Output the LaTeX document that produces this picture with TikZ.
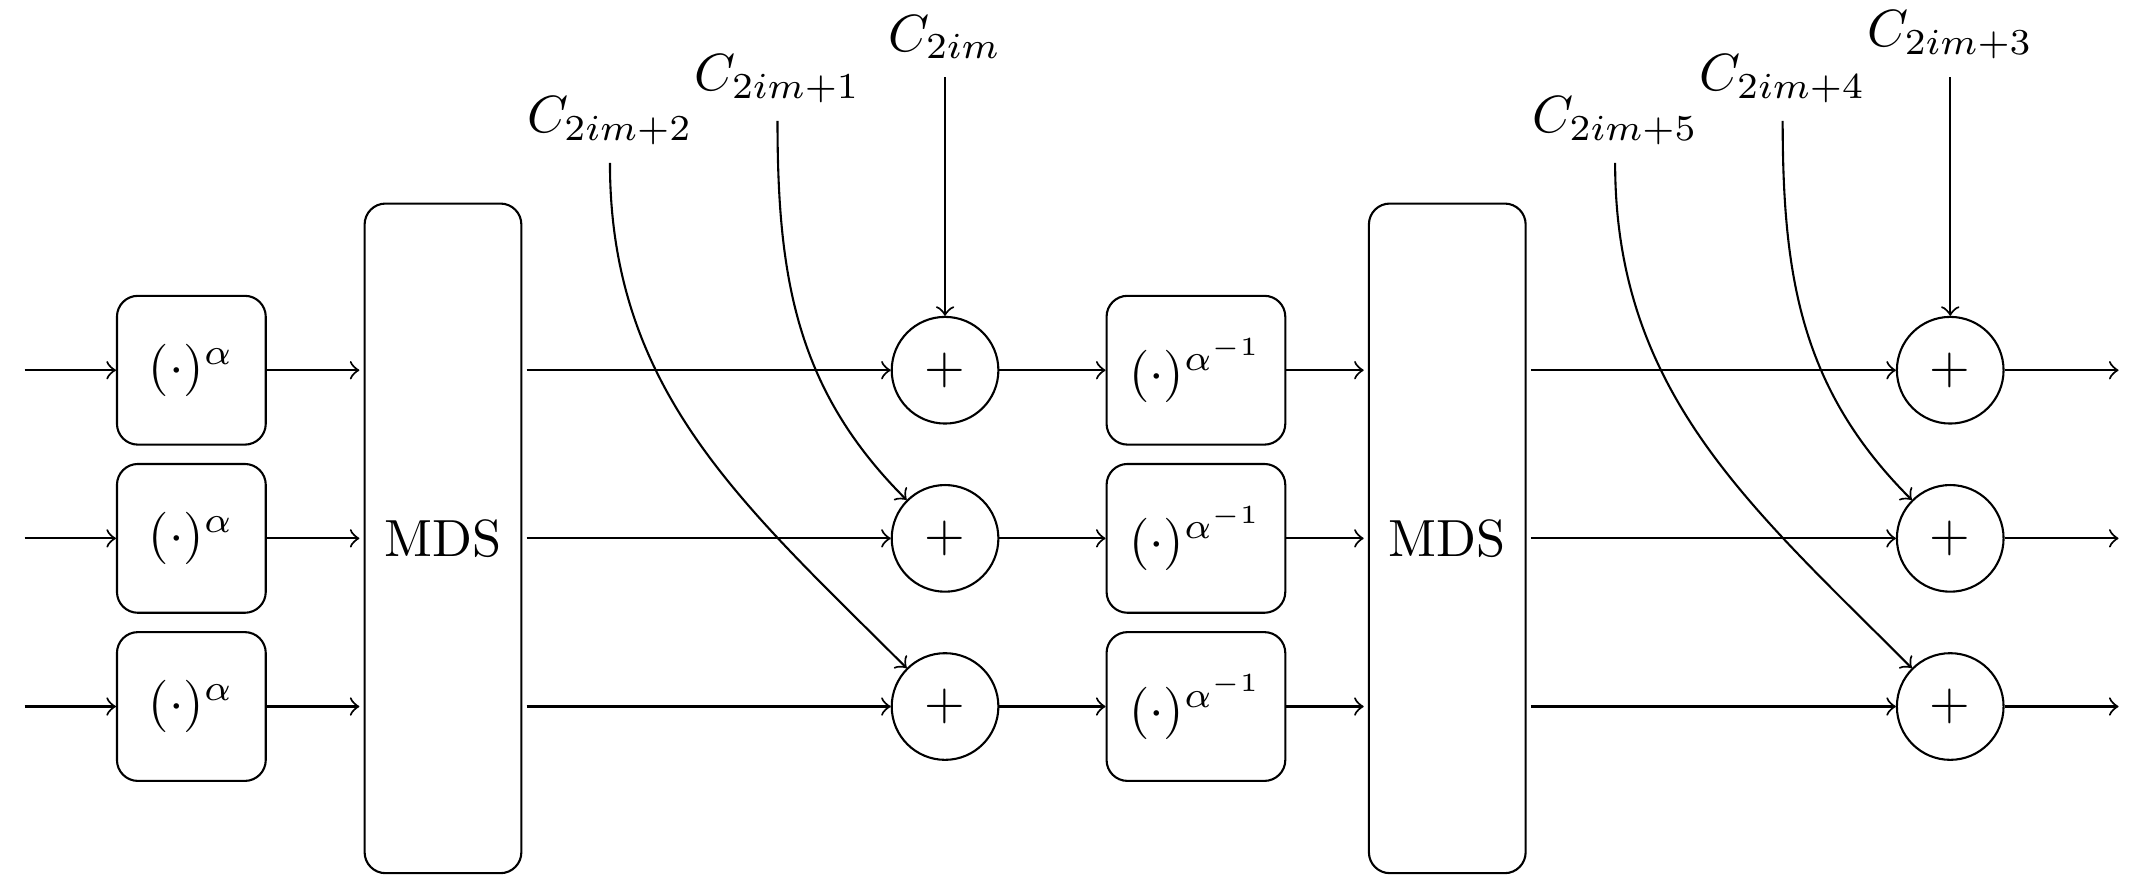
\documentclass[tikz,border=0pt]{standalone}
\begin{document}
\begin{tikzpicture}[
  pw/.style={draw, rounded corners, minimum width=1cm, minimum height=1cm, inner xsep=4.3pt},
  mds/.style={draw, rounded corners, minimum height=4.5cm, inner xsep=3.8pt, outer sep=1pt},
  add/.style={draw, circle, inner sep=3.6pt},
  key/.style={anchor=south}]
\useasboundingbox (0,-2.363) rectangle (14.368,3.618);
\coordinate (i1) at (0.165,1.13);
\coordinate (i2) at (0.165,0);
\coordinate (i3) at (0.165,-1.13);
\node[pw] (p1) at (1.286,1.13) {$(\cdot)^{\alpha}$};
\node[pw] (p2) at (1.286,0) {$(\cdot)^{\alpha}$};
\node[pw] (p3) at (1.286,-1.13) {$(\cdot)^{\alpha}$};
\node[mds] (m1) at (2.977,0) {MDS};
\node[add] (a1) at (6.351,1.13) {$+$};
\node[add] (a2) at (6.351,0) {$+$};
\node[add] (a3) at (6.351,-1.13) {$+$};
\node[pw] (q1) at (8.037,1.13) {$(\cdot)^{\alpha^{-1}}$};
\node[pw] (q2) at (8.037,0) {$(\cdot)^{\alpha^{-1}}$};
\node[pw] (q3) at (8.037,-1.13) {$(\cdot)^{\alpha^{-1}}$};
\node[mds] (m2) at (9.726,0) {MDS};
\node[add] (b1) at (13.106,1.13) {$+$};
\node[add] (b2) at (13.106,0) {$+$};
\node[add] (b3) at (13.106,-1.13) {$+$};
\coordinate (o1) at (14.237,1.13);
\coordinate (o2) at (14.237,0);
\coordinate (o3) at (14.237,-1.13);
\node[key] (c0) at (6.351,3.098) {$C_{2im}$};
\node[key] (c1) at (5.225,2.805) {$C_{2im+1}$};
\node[key] (c2) at (4.099,2.523) {$C_{2im+2}$};
\node[key] (c3) at (13.106,3.098) {$C_{2im+3}$};
\node[key] (c4) at (11.98,2.805) {$C_{2im+4}$};
\node[key] (c5) at (10.854,2.523) {$C_{2im+5}$};
\draw[->] (i1) -- (p1);
\draw[->] (i2) -- (p2);
\draw[->] (i3) -- (p3);
\draw[->] (p1) -- (p1 -| m1.west);
\draw[->] (p2) -- (p2 -| m1.west);
\draw[->] (p3) -- (p3 -| m1.west);
\draw[->] (m1.east |- a1) -- (a1);
\draw[->] (m1.east |- a2) -- (a2);
\draw[->] (m1.east |- a3) -- (a3);
\draw[->] (a1) -- (q1);
\draw[->] (a2) -- (q2);
\draw[->] (a3) -- (q3);
\draw[->] (q1) -- (q1 -| m2.west);
\draw[->] (q2) -- (q2 -| m2.west);
\draw[->] (q3) -- (q3 -| m2.west);
\draw[->] (m2.east |- b1) -- (b1);
\draw[->] (m2.east |- b2) -- (b2);
\draw[->] (m2.east |- b3) -- (b3);
\draw[->] (b1) -- (o1);
\draw[->] (b2) -- (o2);
\draw[->] (b3) -- (o3);
\draw[->] (c0) -- (a1);
\draw[->] (c1) to[out=-90,in=135] (a2);
\draw[->] (c2) to[out=-90,in=135] (a3);
\draw[->] (c3) -- (b1);
\draw[->] (c4) to[out=-90,in=135] (b2);
\draw[->] (c5) to[out=-90,in=135] (b3);
\end{tikzpicture}
\end{document}
